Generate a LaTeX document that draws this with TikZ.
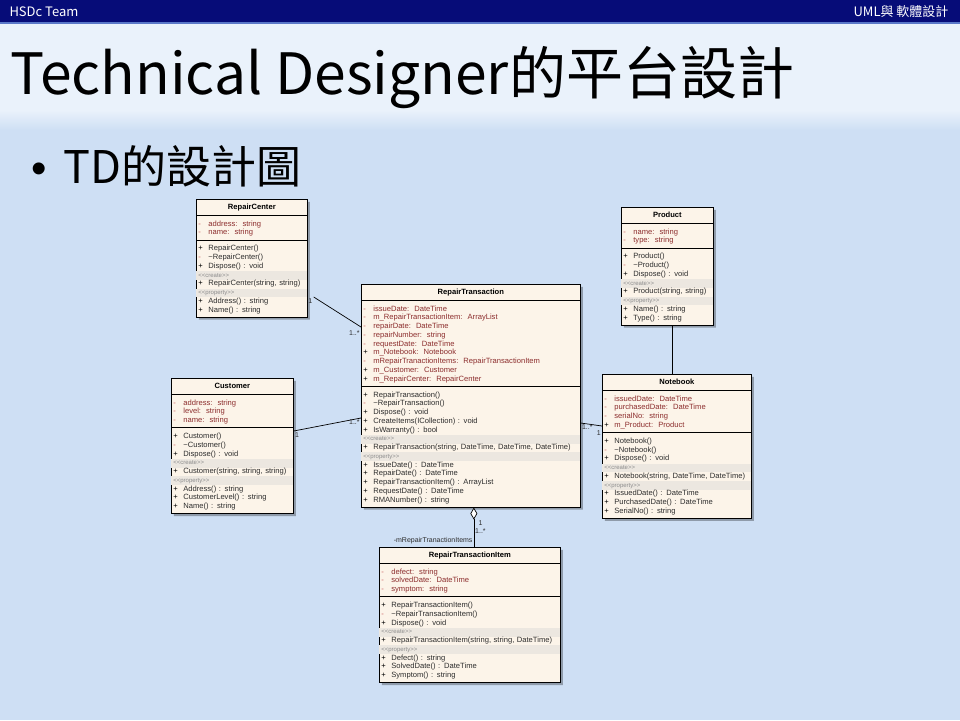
\documentclass[tikz,border=0pt]{standalone}
\usepackage{fontspec}
\newfontfamily\cjkfont{Noto Sans CJK TC}
\newfontfamily\umlfont{Liberation Sans}
\usepackage{tikz}
\usetikzlibrary{shapes, arrows.meta, positioning, shadows}

\definecolor{bgblue}{RGB}{206,223,244}
\definecolor{titlebg}{RGB}{234,242,251}
\definecolor{hdrblue}{RGB}{6,12,120}
\definecolor{hdrline}{RGB}{90,120,200}
\definecolor{classfill}{RGB}{252,244,233}
\definecolor{bandcol}{RGB}{236,231,224}
\definecolor{attrcol}{RGB}{140,45,45}
\definecolor{markcol}{RGB}{200,90,90}
\definecolor{opcol}{RGB}{45,45,45}
\definecolor{stereocol}{RGB}{140,140,140}

\newcommand\priv{{\color{markcol}-}}
\newcommand\classname[1]{\centering\bfseries\rule[-3.5pt]{0pt}{11pt}#1\par}
\newcommand\attline[2]{\par\noindent\makebox[10pt][l]{#1}{\color{attrcol}#2}\strut}
\newcommand\opline[2]{\par\noindent\makebox[10pt][l]{#1}{\color{opcol}#2}\strut}
\newcommand\stereo[1]{\par\noindent\makebox[\hsize][l]{\hspace*{-2pt}{\setlength\fboxsep{0pt}\colorbox{bandcol}{\makebox[\dimexpr\hsize+4pt\relax][l]{\strut\hspace*{2pt}{\color{stereocol}\fontsize{6pt}{8.75pt}\selectfont<{}<#1>{}>}}}}}}

\begin{document}
\begin{tikzpicture}[x=1pt, y=-1pt,
	umlclass/.style={draw, line width=0.7pt, rectangle split, rectangle split parts=3, fill=classfill, anchor=north west, align=left, inner xsep=2pt, inner ysep=2pt, font=\umlfont\fontsize{7.6pt}{8.75pt}\selectfont, drop shadow={shadow xshift=2.5pt, shadow yshift=-2.5pt, fill=black, opacity=0.3}},
	mult/.style={inner sep=1pt, text=opcol, font=\umlfont\fontsize{7pt}{8pt}\selectfont},
	assoc/.style={draw, line width=0.7pt}]
	\useasboundingbox (0,0) rectangle (960,720);
	\fill[bgblue] (0,0) rectangle (960,720);
	\fill[titlebg] (0,22) rectangle (960,110);
	\shade[top color=titlebg, bottom color=bgblue] (0,110) rectangle (960,130);
	\fill[hdrblue] (0,0) rectangle (960,22);
	\fill[hdrline] (0,22) rectangle (960,24);
	\node[anchor=west, text=white, font=\cjkfont\fontsize{13pt}{15pt}\selectfont] (team) at (6,12) {HSDc Team};
	\node[anchor=east, text=white, font=\cjkfont\fontsize{13pt}{15pt}\selectfont] (course) at (952,12) {UML與 軟體設計};
	\node[anchor=base west, inner sep=0pt, font=\cjkfont\fontsize{57pt}{60pt}\selectfont] (title) at (10,94) {Technical Designer的平台設計};
	\node[anchor=base west, inner sep=0pt, font=\cjkfont\fontsize{45pt}{48pt}\selectfont] (bullet) at (31,183) {{\umlfont\fontsize{44pt}{48pt}\selectfont•}\hspace{17pt}TD的設計圖};
	\node[umlclass, text width=107pt] (rc) at (196,199) {\classname{RepairCenter}
		\nodepart{second}\attline{\priv}{address:~~string}
		\attline{\priv}{name:~~string}
		\nodepart{third}\opline{+}{RepairCenter()}
		\opline{\priv}{\textasciitilde RepairCenter()}
		\opline{+}{Dispose() : void}
		\stereo{create}
		\opline{+}{RepairCenter(string, string)}
		\stereo{property}
		\opline{+}{Address() : string}
		\opline{+}{Name() : string}};
	\node[umlclass, text width=88pt] (pr) at (621,207) {\classname{Product}
		\nodepart{second}\attline{\priv}{name:~~string}
		\attline{\priv}{type:~~string}
		\nodepart{third}\opline{+}{Product()}
		\opline{\priv}{\textasciitilde Product()}
		\opline{+}{Dispose() : void}
		\stereo{create}
		\opline{+}{Product(string, string)}
		\stereo{property}
		\opline{+}{Name() : string}
		\opline{+}{Type() : string}};
	\node[umlclass, text width=215pt] (rt) at (361,284) {\classname{RepairTransaction}
		\nodepart{second}\attline{\priv}{issueDate:~~DateTime}
		\attline{\priv}{m\_RepairTransactionItem:~~ArrayList}
		\attline{\priv}{repairDate:~~DateTime}
		\attline{\priv}{repairNumber:~~string}
		\attline{\priv}{requestDate:~~DateTime}
		\attline{+}{m\_Notebook:~~Notebook}
		\attline{\priv}{mRepairTranactionItems:~~RepairTransactionItem}
		\attline{+}{m\_Customer:~~Customer}
		\attline{+}{m\_RepairCenter:~~RepairCenter}
		\nodepart{third}\opline{+}{RepairTransaction()}
		\opline{\priv}{\textasciitilde RepairTransaction()}
		\opline{+}{Dispose() : void}
		\opline{+}{CreateItems(ICollection) : void}
		\opline{+}{IsWarranty() : bool}
		\stereo{create}
		\opline{+}{RepairTransaction(string, DateTime, DateTime, DateTime)}
		\stereo{property}
		\opline{+}{IssueDate() : DateTime}
		\opline{+}{RepairDate() : DateTime}
		\opline{+}{RepairTransactionItem() : ArrayList}
		\opline{+}{RequestDate() : DateTime}
		\opline{+}{RMANumber() : string}};
	\node[umlclass, text width=118pt] (cu) at (171,378) {\classname{Customer}
		\nodepart{second}\attline{\priv}{address:~~string}
		\attline{\priv}{level:~~string}
		\attline{\priv}{name:~~string}
		\nodepart{third}\opline{+}{Customer()}
		\opline{\priv}{\textasciitilde Customer()}
		\opline{+}{Dispose() : void}
		\stereo{create}
		\opline{+}{Customer(string, string, string)}
		\stereo{property}
		\opline{+}{Address() : string}
		\opline{+}{CustomerLevel() : string}
		\opline{+}{Name() : string}};
	\node[umlclass, text width=145pt] (nb) at (602,374) {\classname{Notebook}
		\nodepart{second}\attline{\priv}{issuedDate:~~DateTime}
		\attline{\priv}{purchasedDate:~~DateTime}
		\attline{\priv}{serialNo:~~string}
		\attline{+}{m\_Product:~~Product}
		\nodepart{third}\opline{+}{Notebook()}
		\opline{\priv}{\textasciitilde Notebook()}
		\opline{+}{Dispose() : void}
		\stereo{create}
		\opline{+}{Notebook(string, DateTime, DateTime)}
		\stereo{property}
		\opline{+}{IssuedDate() : DateTime}
		\opline{+}{PurchasedDate() : DateTime}
		\opline{+}{SerialNo() : string}};
	\node[umlclass, text width=177pt] (it) at (379,547) {\classname{RepairTransactionItem}
		\nodepart{second}\attline{\priv}{defect:~~string}
		\attline{\priv}{solvedDate:~~DateTime}
		\attline{\priv}{symptom:~~string}
		\nodepart{third}\opline{+}{RepairTransactionItem()}
		\opline{\priv}{\textasciitilde RepairTransactionItem()}
		\opline{+}{Dispose() : void}
		\stereo{create}
		\opline{+}{RepairTransactionItem(string, string, DateTime)}
		\stereo{property}
		\opline{+}{Defect() : string}
		\opline{+}{SolvedDate() : DateTime}
		\opline{+}{Symptom() : string}};
	\path [assoc] ([xshift=6pt, yshift=-98pt]rc.north east) -- node [mult, pos=0, anchor=north east] {1} node [mult, pos=1, anchor=north east, yshift=-2pt] {1..*} ([yshift=-43pt]rt.north west);
	\path [assoc] ([yshift=-53pt]cu.north east) -- node [mult, pos=0, anchor=north west] {1} node [mult, pos=1, anchor=north east] {1..*} ([yshift=-134pt]rt.north west);
	\path [assoc] ([yshift=-139pt]rt.north east) -- node [mult, pos=0, anchor=north west] {1..*} node [mult, pos=1, anchor=north east, yshift=-3pt] {1} ([yshift=-52pt]nb.north west);
	\path [assoc] ([xshift=5pt]pr.south) -- ([xshift=5pt]pr.south |- nb.north);
	\path [assoc, -{Diamond[open, fill=white, length=12pt, width=7pt]}] ([xshift=4pt]it.north) -- node [mult, anchor=west, align=center] {1\\1..*} node [mult, pos=0.17, anchor=east] {-mRepairTranactionItems} ([xshift=4pt]it.north |- rt.south);
\end{tikzpicture}
\end{document}
